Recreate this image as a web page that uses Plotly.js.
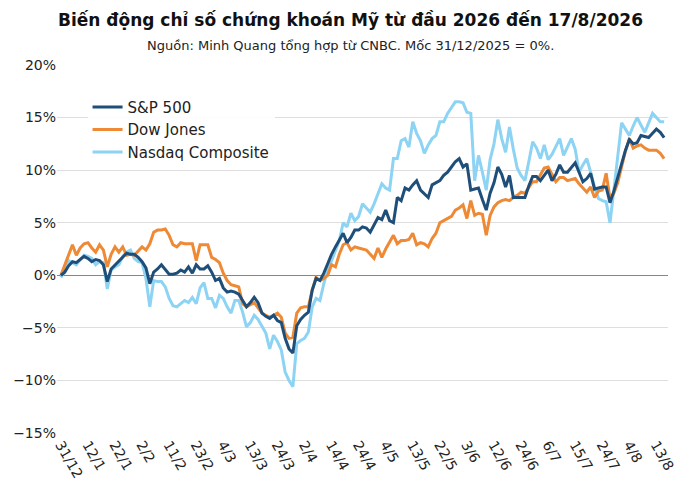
<!DOCTYPE html>
<html>
<head>
<meta charset="utf-8">
<script src="https://cdn.plot.ly/plotly-3.0.1.min.js"></script>
<style>body{margin:0;background:#fff}#chart{width:700px;height:490px}</style>
</head>
<body>
<div id="chart"></div>
<script>
// one value per trading day, from 31/12/2025 to 17/8/2026, in %
const tickLabels = ['31/12','12/1','22/1','2/2','11/2','23/2','4/3','13/3','24/3','2/4','14/4','24/4',
    '4/5','13/5','22/5','3/6','12/6','24/6','6/7','15/7','24/7','4/8','13/8'];

const sp500 = [0,0.3,0.9,1.3,1.2,1.5,1.8,1.6,1.3,1.5,1.4,1.0,-0.6,0.6,1.0,1.3,1.8,2.1,2.0,2.0,
    1.7,1.3,0.7,-0.8,0.3,0.6,1.0,0.6,0.1,0.1,0.2,0.5,0.3,0.8,0.2,1.0,0.6,0.6,0.9,0.3,
    -0.5,-0.3,-1.2,-1.6,-1.5,-1.6,-1.8,-2.4,-3.0,-2.6,-2.1,-2.6,-3.6,-3.9,-4.1,-3.8,-4.3,-4.5,-6.0,-7.0,
    -7.4,-4.8,-4.2,-3.8,-3.5,-1.4,-0.3,-0.5,0.2,1.1,2.0,2.7,3.4,4.0,3.1,3.6,4.3,4.3,4.6,4.5,
    4.1,4.8,5.5,5.3,6.2,5.2,5.0,7.4,7.1,8.3,8.1,8.6,9.0,8.1,7.7,7.4,8.6,8.8,9.0,9.5,
    9.8,10.3,10.8,11.1,10.3,10.6,8.1,8.2,8.3,7.2,6.2,7.8,8.8,10.3,9.6,8.4,9.5,7.4,7.4,7.4,
    7.4,8.5,9.4,9.4,9.0,9.5,10.0,9.0,9.6,10.5,9.8,9.8,10.2,10.7,9.8,8.9,9.2,9.7,8.2,8.3,
    8.4,8.4,6.9,8.0,9.3,10.5,11.9,12.9,12.5,12.6,13.3,13.2,13.1,13.5,13.9,13.6,13.1];

const dowJones = [0,1.0,2.0,2.9,1.9,2.6,3.0,3.1,2.6,2.2,2.9,2.4,0.8,2.0,2.7,2.2,2.7,1.9,2.0,1.9,
    2.3,2.7,2.4,3.0,4.1,4.3,4.3,4.4,3.8,2.9,2.7,3.1,3.0,3.0,3.0,1.4,2.9,2.9,2.9,1.7,
    1.5,1.2,0.2,-0.5,-0.9,-1.0,-1.1,-2.7,-3.0,-2.8,-2.6,-3.1,-3.6,-3.8,-4.0,-3.8,-3.6,-4.0,-5.5,-6.0,
    -5.9,-3.6,-3.1,-3.0,-3.0,-1.4,-0.2,-0.5,-0.3,0.0,1.0,0.8,2.0,2.9,3.1,2.4,2.7,2.6,2.5,2.4,
    2.0,1.6,2.6,1.7,2.5,3.2,3.8,3.0,3.3,3.3,3.4,4.0,2.9,3.1,3.0,2.7,3.5,4.0,5.0,5.2,
    5.4,5.6,6.2,6.4,6.7,5.4,7.1,5.7,5.9,5.8,3.8,5.7,6.5,6.9,7.1,7.2,7.1,7.4,7.6,7.9,
    7.8,8.3,8.9,8.9,9.5,10.2,10.3,9.6,8.9,9.3,9.3,9.0,9.1,9.2,8.7,8.3,7.9,8.4,7.4,8.0,
    8.1,9.7,7.3,7.8,8.8,10.3,11.8,13.0,12.1,12.3,12.4,12.1,11.9,11.9,11.9,11.6,11.1];

const nasdaq = [-0.2,0.4,1.4,1.2,1.0,1.5,1.9,1.8,1.6,1.0,1.3,1.2,-1.3,0.5,0.8,1.0,1.8,2.2,2.4,1.6,
    1.3,1.2,-0.3,-3.0,-0.5,-0.6,-0.6,-1.1,-2.2,-2.9,-3.0,-2.7,-2.4,-2.6,-2.1,-2.7,-1.2,-0.7,-2.2,-2.2,
    -3.1,-1.9,-2.2,-3.0,-3.6,-2.4,-2.4,-3.5,-4.9,-4.5,-3.8,-4.2,-4.9,-5.5,-7.0,-5.7,-6.3,-7.1,-9.2,-10.0,
    -10.6,-6.5,-6.2,-6.0,-5.4,-3.0,-2.2,-2.4,-0.8,0.5,1.4,2.4,3.3,5.0,4.6,5.9,5.2,5.6,6.8,6.4,
    6.0,6.8,7.8,8.7,8.3,8.1,11.1,11.1,12.8,13.0,12.2,14.6,13.5,12.8,11.6,12.4,13.0,13.3,14.6,14.6,
    15.4,16.0,16.5,16.5,16.4,15.5,15.4,9.0,11.4,9.8,8.1,11.0,12.5,14.8,13.0,11.7,14.1,12.0,10.2,9.5,
    9.0,10.8,12.7,12.1,11.1,12.4,11.0,11.5,12.3,13.0,11.4,12.2,13.0,12.0,9.8,10.5,11.1,9.8,8.4,7.3,
    7.1,7.0,5.0,8.1,11.3,14.5,13.9,13.3,14.2,15.0,14.3,13.6,14.5,15.4,15.0,14.6,14.6];

const days = sp500.map((v, i) => i);
const tickVals = tickLabels.map((t, i) => i * 7);

const font = 'Tahoma, "DejaVu Sans", sans-serif';

const data = [
    {x: days, y: nasdaq, name: 'Nasdaq Composite', type: 'scatter', mode: 'lines',
     line: {color: '#8dd3f3', width: 3}, legendrank: 3},
    {x: days, y: dowJones, name: 'Dow Jones', type: 'scatter', mode: 'lines',
     line: {color: '#ee8a35', width: 3}, legendrank: 2},
    {x: days, y: sp500, name: 'S&P 500', type: 'scatter', mode: 'lines',
     line: {color: '#1f4e79', width: 3}, legendrank: 1},
];

const layout = {
    width: 700,
    height: 490,
    paper_bgcolor: '#fff',
    plot_bgcolor: '#fff',
    font: {family: font, size: 14, color: '#222'},
    margin: {l: 57, r: 32, t: 65, b: 57},
    showlegend: true,
    legend: {x: 0.05, y: 0.93, xanchor: 'left', yanchor: 'top', bgcolor: 'rgba(255,255,255,0.9)',
        font: {family: font, size: 15, color: '#222'}, tracegroupgap: 12},
    xaxis: {
        range: [-1, 157],
        tickvals: tickVals,
        ticktext: tickLabels,
        tickangle: 60,
        showgrid: false,
        zeroline: false,
        showline: false,
        ticks: '',
        tickfont: {family: font, size: 14, color: '#222'},
        fixedrange: true,
    },
    yaxis: {
        range: [-15, 20],
        dtick: 5,
        ticksuffix: '%',
        showgrid: true,
        gridcolor: '#dedede',
        zeroline: true,
        zerolinecolor: '#9c8a3c',
        zerolinewidth: 1.5,
        tickfont: {family: font, size: 14, color: '#222'},
        fixedrange: true,
    },
    annotations: [
        {text: '<b>Biến động chỉ số chứng khoán Mỹ từ đầu 2026 đến 17/8/2026</b>', xref: 'paper', yref: 'paper',
         x: 0.48, y: 1.122, yanchor: 'middle', showarrow: false, font: {family: font, size: 17, color: '#111'}},
        {text: 'Nguồn: Minh Quang tổng hợp từ CNBC. Mốc 31/12/2025 = 0%.', xref: 'paper', yref: 'paper',
         x: 0.48, y: 1.054, yanchor: 'middle', showarrow: false, font: {family: font, size: 13, color: '#222'}},
    ],
};

Plotly.newPlot('chart', data, layout, {displayModeBar: false, staticPlot: true});
</script>
</body>
</html>
